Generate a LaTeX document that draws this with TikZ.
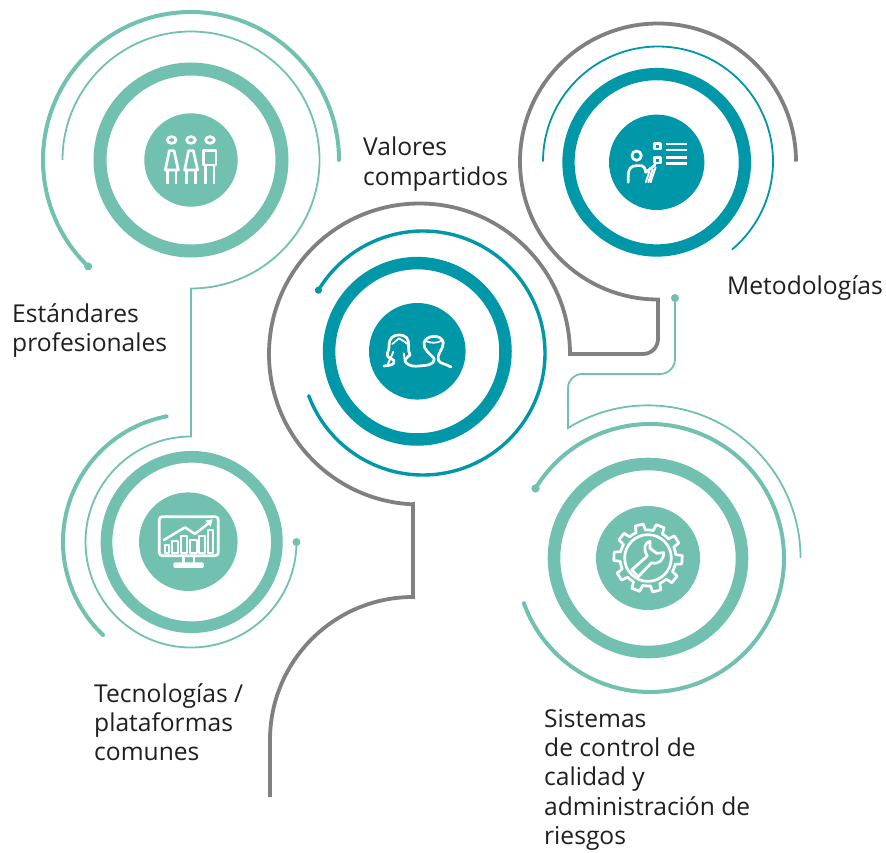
\documentclass[tikz,border=0pt]{standalone}
\usepackage{fontspec}
\setmainfont{Open Sans}
\definecolor{teal1}{HTML}{72C1B0}
\definecolor{blue1}{HTML}{0097A9}
\definecolor{gray1}{HTML}{808083}
\definecolor{ink}{HTML}{1F1F22}
\tikzset{
 disk/.style={circle,inner sep=0pt,minimum size=#1*2pt,fill=hubc},
 ringo/.style={circle,inner sep=0pt,minimum size=#1*2pt,draw=hubc},
 lab/.style={anchor=base west,inner sep=0pt,text=ink,font=\fontsize{24.6}{29.4}\selectfont},
 ico/.style={draw=white,line width=2.7pt,line join=round,line cap=round},
 thin/.style={line width=1.8pt},
 mid/.style={line width=4pt,line cap=round},
 grayline/.style={draw=gray1,line width=3.8pt},
}
\begin{document}
\begin{tikzpicture}[x=1pt,y=1pt,yscale=-1]
\useasboundingbox (0,0) rectangle (886,853);
\fill[white] (0,0) rectangle (886,853);
% centres of the arc systems
\coordinate (c1) at (191,160);
\coordinate (c2) at (658,161.5);
\coordinate (c3) at (423,353);
\coordinate (c4) at (191,542);
\coordinate (c5) at (650,558);
% hubs
\colorlet{hubc}{teal1}
\node[ringo=91,line width=13pt] (ring1) at (191,160) {};
\node[disk=46.7] (hub1) at (191,160) {};
\node[ringo=85.2,line width=11.7pt] (ring4) at (191.7,542) {};
\node[disk=49.3] (hub4) at (188.3,541.7) {};
\node[ringo=94,line width=12.6pt] (ring5) at (648,558) {};
\node[disk=52] (hub5) at (648,558) {};
\colorlet{hubc}{blue1}
\node[ringo=88.2,line width=12.3pt] (ring2) at (656.7,162.3) {};
\node[disk=47.7] (hub2) at (656.7,162.3) {};
\node[ringo=88.2,line width=12.5pt] (ring3) at (417.3,351.3) {};
\node[disk=48.3] (hub3) at (417.3,351.3) {};
% teal arcs
\draw[teal1,mid] (c1) ++(134:148) coordinate (d1) arc[start angle=134,end angle=360,radius=148];
\fill[teal1] (d1) circle (4);
\draw[teal1,thin] (c1) ++(180:128.5) arc[start angle=180,end angle=450,radius=128.5]
   -- (191,436.5) arc[start angle=270,end angle=0,radius=105.5] coordinate (d4);
\fill[teal1] (d4) circle (4);
\draw[teal1,mid] (c4) ++(259:128) arc[start angle=259,end angle=133.4,radius=128];
\draw[teal1,mid] (c5) ++(211.3:134) coordinate (d5) arc[start angle=211.3,end angle=520.3,radius=134];
\fill[teal1] (d5) circle (4.2);
\coordinate (dt) at (675,298);
\fill[teal1] (dt) circle (4);
\draw[teal1,thin] (dt) -- (675,359) arc[start angle=0,end angle=90,radius=15] -- (582,374)
   arc[start angle=270,end angle=180,radius=14] -- (568,428)
   arc[start angle=238.4,end angle=360,radius=152.6];
% blue arcs
\draw[blue1,thin] (c2) ++(180:115) arc[start angle=180,end angle=410,radius=115];
\draw[blue1,line width=3.4pt,line cap=round] (c3) ++(211:122) coordinate (d3) arc[start angle=211,end angle=519.5,radius=122];
\fill[blue1] (d3) circle (3.6);
% gray line
\draw[grayline,line join=miter] (c2) ++(0:138) arc[start angle=0,end angle=-270,radius=138]
   -- (658,299.5) -- (658,339) arc[start angle=0,end angle=90,radius=15] -- (570,354)
   arc[start angle=0,end angle=-267,radius=150.5]
   -- (413,504) -- (413,597) arc[start angle=270,end angle=180,radius=143] -- (270,797);
% icon 1
\begin{scope}[shift={(40,0)},scale=0.3333]
 \foreach \dx in {0,58} {
  \draw[ico] (395+\dx,420) ellipse (13 and 10);
  \draw[ico] (388+\dx,452) -- (402+\dx,452) -- (415+\dx,510) -- (376+\dx,510) -- cycle;
  \draw[ico,line cap=butt] (382+\dx,510) -- (382+\dx,553) (408+\dx,510) -- (408+\dx,553);
 }
 \draw[ico] (510,420) ellipse (13 and 10);
 \draw[ico] (490,452) rectangle (528,495);
 \draw[ico,line cap=butt] (497,495) -- (497,553) (522,495) -- (522,553);
\end{scope}
% icon 2
\begin{scope}[shift={(500,10)},scale=0.3333]
 \draw[ico] (410,437) circle (14);
 \draw[ico] (385,517) -- (385,495) .. controls (385,475) and (395,467) .. (410,467) -- (425,467) .. controls (432,467) and (435,475) .. (437,487) -- (465,465);
 \draw[ico,line width=1.8pt] (437,517) -- (448,485) (445,517) -- (458,478) (452,517) -- (467,472);
 \draw[ico] (463,400) rectangle (482,417);
 \draw[ico] (463,442) rectangle (482,459);
 \draw[ico,line cap=butt] (497,402) -- (560,402) (497,420) -- (560,420) (497,442) -- (560,442) (497,460) -- (560,460);
\end{scope}
% icon 3
\begin{scope}[shift={(260,190)},scale=0.3333]
 \draw[ico] (372,528) .. controls (390,526) and (405,525) .. (402,512)
   .. controls (398,505) and (378,505) .. (382,490)
   .. controls (392,475) and (382,455) .. (395,443)
   .. controls (405,432) and (430,432) .. (440,443)
   .. controls (452,458) and (440,478) .. (450,495)
   .. controls (440,505) and (428,510) .. (440,520)
   .. controls (450,528) and (462,530) .. (478,528)
   .. controls (500,526) and (525,525) .. (522,505)
   .. controls (510,490) and (490,480) .. (492,460)
   .. controls (495,435) and (545,430) .. (550,458)
   .. controls (550,480) and (530,490) .. (535,510)
   .. controls (540,522) and (555,520) .. (573,531);
 \draw[ico,line width=1.8pt] (500,454) .. controls (515,460) and (530,460) .. (545,452);
 \draw[ico,line width=1.8pt] (397,462) .. controls (405,455) and (412,450) .. (417,445) .. controls (425,450) and (435,455) .. (442,462);
 \draw[ico,line width=1.8pt] (400,485) .. controls (395,500) and (388,510) .. (384,522);
 \draw[ico,line width=1.8pt] (432,490) .. controls (430,500) and (434,510) .. (440,520);
\end{scope}
% icon 4
\begin{scope}[shift={(50,400)},scale=0.3333]
 \draw[ico,rounded corners=3pt] (328,350) rectangle (505,467);
 \draw[ico,line cap=butt] (400,467) -- (400,490) (432,467) -- (432,490);
 \fill[white,rounded corners=2pt] (370,487) rectangle (462,504);
 \draw[ico,line width=2pt] (345,436) rectangle (358,458) (367,422) rectangle (385,458) (393,408) rectangle (412,458)
   (420,420) rectangle (440,458) (447,408) rectangle (465,458) (473,390) rectangle (490,458);
 \draw[ico,line width=2.5pt] (342,420) -- (405,382) -- (435,402) -- (478,368);
 \fill[white] (488,358) -- (466,362) -- (482,380) -- cycle;
\end{scope}
% icon 5
\begin{scope}[shift={(510,420)},scale=0.3333]
 \begin{scope}[shift={(414,414)}]
  \foreach \a in {3,39,...,327} {
   \draw[ico] (\a-18:84) -- (\a-10:84) -- (\a-7:103) -- (\a+7:103) -- (\a+10:84) -- (\a+18:84);
  }
  \draw[ico] (0,0) circle (70);
 \end{scope}
 \draw[ico] (365,450) -- (412,408) .. controls (398,385) and (405,368) .. (420,364)
   -- (420,385) -- (440,400) -- (461,398)
   .. controls (462,420) and (445,435) .. (425,428) -- (385,470) -- cycle;
\end{scope}
% labels
\node[lab] (t1) at (12,322) {\vtop{\hbox{Estándares}\hbox{profesionales}}};
\node[lab] (t2) at (363,156) {\vtop{\hbox{Valores}\hbox{compartidos}}};
\node[lab] (t3) at (727,294) {Metodologías};
\node[lab] (t4) at (94,702) {\vtop{\hbox{Tecnologías /}\hbox{plataformas}\hbox{comunes}}};
\node[lab] (t5) at (544,727) {\vtop{\hbox{Sistemas}\hbox{de control de}\hbox{calidad y}\hbox{administración de}\hbox{riesgos}}};
\end{tikzpicture}
\end{document}
